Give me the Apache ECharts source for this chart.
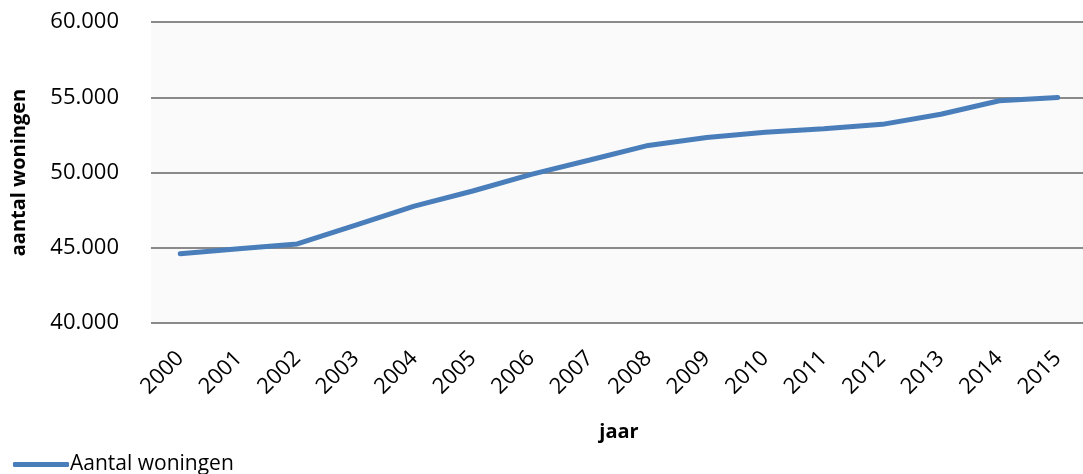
<!DOCTYPE html>
<html>
<head>
<meta charset="utf-8">
<script src="https://cdn.jsdelivr.net/npm/echarts@6/dist/echarts.min.js"></script>
<style>html,body{margin:0;padding:0;background:#fff;}#c{width:1083px;height:474px;}</style>
</head>
<body>
<div id="c"></div>
<script>
var years = ['2000','2001','2002','2003','2004','2005','2006','2007','2008','2009','2010','2011','2012','2013','2014','2015'];
var woningen = [44600, 44930, 45250, 46500, 47770, 48770, 49880, 50830, 51800, 52330, 52680, 52900, 53200, 53870, 54770, 54990];
var seriesName = 'Aantal woningen';
var yAxisTitle = 'aantal woningen';
var xAxisTitle = 'jaar';

var chart = echarts.init(document.getElementById('c'));
var font = '"Open Sans", "Noto Sans", sans-serif';
chart.setOption({
  animation: false,
  textStyle: {fontFamily: font},
  grid: {left: 151, right: -4, top: 22, bottom: 151, show: true, backgroundColor: '#fafafa', borderWidth: 0,
         containLabel: false, outerBoundsMode: 'none'},
  legend: {
    left: 8, bottom: -6, data: [seriesName],
    icon: 'roundRect', itemWidth: 56, itemHeight: 5, itemGap: 10,
    textStyle: {fontFamily: font, fontSize: 21, color: '#000', padding: [0,0,0,-4]}
  },
  xAxis: {
    type: 'category', data: years, boundaryGap: true,
    name: xAxisTitle, nameLocation: 'middle', nameGap: 99,
    nameTextStyle: {fontFamily: font, fontSize: 20, fontWeight: 'bold', color: '#000'},
    axisLine: {show: false}, axisTick: {show: false},
    axisLabel: {rotate: 45, fontFamily: font, fontSize: 22, color: '#000', margin: 32, interval: 0}
  },
  yAxis: {
    type: 'value', min: 40000, max: 60000, interval: 5000,
    name: yAxisTitle, nameLocation: 'middle', nameGap: 122,
    nameTextStyle: {fontFamily: font, fontSize: 20, fontWeight: 'bold', color: '#000'},
    axisLine: {show: false}, axisTick: {show: false},
    axisLabel: {fontFamily: font, fontSize: 22, color: '#000', margin: 32,
      formatter: function(v){ return (v/1000).toFixed(3); }},
    splitLine: {lineStyle: {color: '#8a8a8a', width: 2}}
  },
  series: [{
    name: seriesName, type: 'line', data: woningen,
    showSymbol: false, symbol: 'none',
    lineStyle: {color: '#4a7ebb', width: 5, cap: 'round'},
    itemStyle: {color: '#4a7ebb'}
  }]
});
</script>
</body>
</html>
